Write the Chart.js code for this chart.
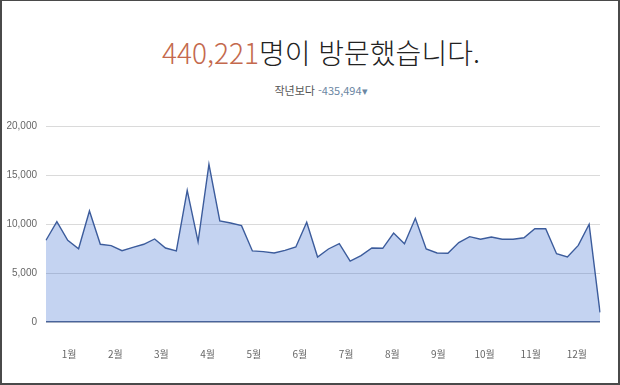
<!DOCTYPE html>
<html lang="ko">
<head>
<meta charset="utf-8">
<script src="https://cdn.jsdelivr.net/npm/chart.js@4/dist/chart.umd.min.js"></script>
<style>
  html, body { margin: 0; padding: 0; background: #fff; }
  body { width: 620px; height: 385px; position: relative; overflow: hidden; font-family: 'Noto Sans CJK KR', 'Noto Sans', sans-serif; }
  .frame { position: absolute; left: 0; top: 0; width: 620px; height: 385px; box-sizing: border-box; border: 2px solid #4a4a4a; border-top-width: 1px; pointer-events: none; }
  .headline { position: absolute; left: 0; width: 642px; text-align: center; top: 32px; font-size: 28px; font-weight: 300; color: #222; line-height: 40px; white-space: nowrap; }
  .headline .num { color: #c4694d; }
  .sub { position: absolute; left: 0; width: 642px; text-align: center; top: 81px; font-size: 11px; color: #555; line-height: 18px; white-space: nowrap; }
  .sub .diff { color: #6c87a3; }
  .chart-box { position: absolute; left: 0; top: 111px; width: 620px; height: 267px; }
</style>
</head>
<body>
<div class="headline"><span class="num">440,221</span>명이 방문했습니다.</div>
<div class="sub">작년보다 <span class="diff">-435,494▾</span></div>
<div class="chart-box"><canvas id="visits"></canvas></div>
<div class="frame"></div>
<script>
// weekly visitors (52 weeks)
const weeklyVisits = [
  8340, 10240, 8340, 7480, 11330, 7930, 7790, 7280, 7620, 7930,
  8470, 7550, 7250, 13440, 8190, 16090, 10310, 10100, 9830, 7250,
  7180, 7040, 7310, 7650, 10170, 6630, 7450, 7990, 6220, 6770,
  7550, 7520, 9080, 7990, 10580, 7450, 7040, 7010, 8100, 8710,
  8440, 8670, 8440, 8440, 8600, 9520, 9520, 6970, 6630, 7820,
  9970, 990
];
const weekLabels = weeklyVisits.map((_, i) => (i + 1) + '주');
const monthLabels = ['1월', '2월', '3월', '4월', '5월', '6월', '7월', '8월', '9월', '10월', '11월', '12월'];
const yTicks = [0, 5000, 10000, 15000, 20000];

const ctx = document.getElementById('visits').getContext('2d');
const chart = new Chart(ctx, {
    type: 'line',
    data: {
        labels: weekLabels,
        datasets: [{
            label: '방문자',
            data: weeklyVisits,
            borderColor: '#3c5c9c',
            borderWidth: 1.4,
            backgroundColor: 'rgba(60, 110, 210, 0.3)',
            fill: 'origin',
            pointRadius: 0,
            tension: 0
        }]
    },
    options: {
        responsive: true,
        maintainAspectRatio: false,
        animation: false,
        layout: { padding: { left: 0, right: 20, top: 4, bottom: 0 } },
        plugins: {
            legend: { display: false },
            tooltip: { enabled: false }
        },
        scales: {
            x: {
                type: 'category',
                offset: false,
                grid: { display: false },
                border: { display: false },
                ticks: { display: false },
                afterFit: (scale) => { scale.height = 0; }
            },
            months: {
                type: 'category',
                labels: monthLabels,
                position: 'bottom',
                offset: true,
                grid: { display: false, drawTicks: false },
                border: { display: false },
                ticks: {
                    color: '#666',
                    font: { family: "'Noto Sans CJK KR', sans-serif", size: 10 },
                    padding: 26,
                    maxRotation: 0,
                    autoSkip: false
                },
                afterFit: (scale) => { scale.height = 56; }
            },
            y: {
                min: 0,
                max: 20000,
                afterBuildTicks: (scale) => { scale.ticks = yTicks.map(v => ({ value: v })); },
                grid: {
                    color: (c) => c.tick && c.tick.value === 0 ? '#4f6185' : '#dadada',
                    lineWidth: (c) => c.tick && c.tick.value === 0 ? 1.4 : 1,
                    drawTicks: false
                },
                border: { display: false },
                ticks: {
                    color: '#666',
                    font: { family: "'Liberation Sans', Arial, sans-serif", size: 10 },
                    padding: 9,
                    callback: (v) => v.toLocaleString('en-US')
                },
                afterFit: (scale) => { scale.width = 46; }
            }
        }
    }
});
</script>
</body>
</html>
